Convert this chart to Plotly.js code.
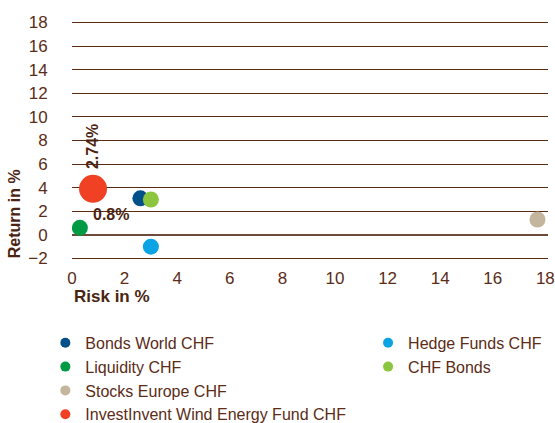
<!DOCTYPE html>
<html><head><meta charset="utf-8">
<script src="https://cdn.plot.ly/plotly-3.0.1.min.js"></script>
<style>html,body{margin:0;padding:0;background:#fff}#chart{width:555px;height:423px}</style>
</head><body><div id="chart"></div>
<script>
const names = ["Bonds World CHF","Hedge Funds CHF","Liquidity CHF","CHF Bonds","Stocks Europe CHF","InvestInvent Wind Energy Fund CHF"];
const risk = [2.6, 3.0, 0.3, 3.0, 17.7, 0.8];
const ret = [3.1, -1.0, 0.6, 3.0, 1.3, 3.9];
const colors = ["#02508a","#0aa3e3","#009a44","#8cc63f","#c4b69c","#f04124"];
const sizes = [16,16,16,16,16,28];
const legendGroup = ["legend","legend2","legend","legend2","legend","legend"];
const xTicks = [0,2,4,6,8,10,12,14,16,18];
const yTicks = [-2,0,2,4,6,8,10,12,14,16,18];
const labelText = ["2.74%","0.8%"];
const labelX = [0.8, 1.48];
const labelY = [7.45, 1.7];
const labelAngle = [-90, 0];

const brown = "#5b2c16";
const dark = "#4a2410";
const fam = "Liberation Sans, Arial, sans-serif";
const tickFont = {family:fam, size:17, color:brown};
const legFont = {family:fam, size:16, color:brown};
const traces = [];
names.forEach((n,i)=>{
  traces.push({type:"scatter", mode:"markers", x:[risk[i]], y:[ret[i]], name:n,
    marker:{color:colors[i], size:sizes[i]}, showlegend:false, hoverinfo:"name"});
});
names.forEach((n,i)=>{
  traces.push({type:"scatter", mode:"markers", x:[null], y:[null], name:n,
    marker:{color:colors[i], size:10}, legend:legendGroup[i], showlegend:true});
});
// plot area: top 19.2, bottom 262.5 => height 243.3
const annotations = labelText.map((t,i)=>({x:labelX[i], y:labelY[i], xref:"x", yref:"y", text:"<b>"+t+"</b>",
  showarrow:false, textangle:labelAngle[i], font:{family:fam,size:16,color:dark}}));
annotations.push({xref:"paper", yref:"paper", x:0, xanchor:"left", y:-0.142, yanchor:"middle", text:"<b>Risk in %</b>", showarrow:false, font:{family:fam,size:17,color:dark}});
annotations.push({xref:"paper", yref:"paper", x:-0.12, xanchor:"center", y:0.2, yanchor:"middle", text:"<b>Return in %</b>", textangle:-90, showarrow:false, font:{family:fam,size:16,color:dark}});
const layout = {
  width:555, height:423, margin:{l:72, r:7, t:19.2, b:160.5, autoexpand:false},
  paper_bgcolor:"#fff", plot_bgcolor:"#fff", font:legFont,
  xaxis:{range:[0,18.1], tickvals:xTicks, showgrid:false, zeroline:false, showline:false,
    ticks:"outside", ticklen:1, tickcolor:"rgba(0,0,0,0)", tickfont:tickFont},
  yaxis:{range:[-2.3,18.3], tickvals:yTicks, showgrid:true, gridcolor:"#5a2a12", gridwidth:1,
    zeroline:true, zerolinecolor:"#6e4a38", zerolinewidth:2, showline:false,
    ticks:"outside", ticklen:20, tickcolor:"rgba(0,0,0,0)", tickfont:tickFont},
  legend:{x:-0.056, xanchor:"left", y:-0.263, yanchor:"top", orientation:"v", font:legFont, tracegroupgap:0, bgcolor:"rgba(0,0,0,0)"},
  legend2:{x:0.622, xanchor:"left", y:-0.263, yanchor:"top", orientation:"v", font:legFont, tracegroupgap:0, bgcolor:"rgba(0,0,0,0)"},
  annotations:annotations, showlegend:true
};
Plotly.newPlot("chart", traces, layout, {displayModeBar:false, staticPlot:true});
</script></body></html>
